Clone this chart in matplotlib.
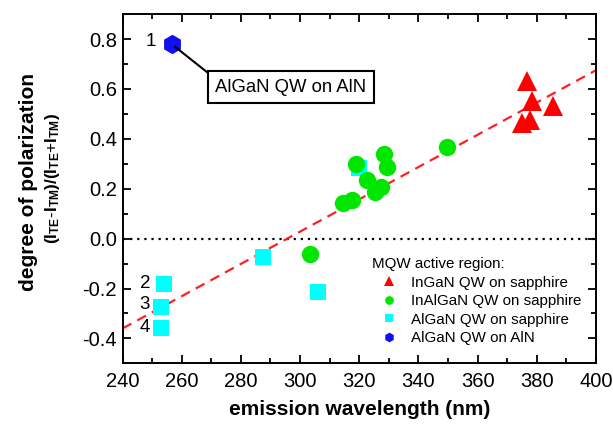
import matplotlib
matplotlib.use("Agg")
import numpy as np
from matplotlib import pyplot as plt
from matplotlib.ticker import MultipleLocator

plt.rcParams['font.family'] = ['Liberation Sans', 'DejaVu Sans']
plt.rcParams['mathtext.fontset'] = 'custom'
plt.rcParams['mathtext.rm'] = 'Liberation Sans'
plt.rcParams['mathtext.bf'] = 'Liberation Sans:bold'
plt.rcParams['mathtext.it'] = 'Liberation Sans:italic'

# InGaN QW on sapphire
ingan_x = [376.8, 378.4, 385.4, 375.0, 377.6]
ingan_y = [0.633, 0.553, 0.533, 0.462, 0.475]

# InAlGaN QW on sapphire
inalgan_x = [303.2, 314.4, 317.5, 318.9, 322.8, 325.4, 327.4, 328.4, 329.5, 349.8]
inalgan_y = [-0.06, 0.142, 0.156, 0.300, 0.236, 0.189, 0.209, 0.340, 0.289, 0.369]

# AlGaN QW on sapphire
algan_x = [254.0, 252.9, 252.9, 287.4, 306.0, 320.0]
algan_y = [-0.18, -0.276, -0.36, -0.074, -0.214, 0.285]

# AlGaN QW on AlN
aln_x = [256.6]
aln_y = [0.78]

# linear guide
fit_x = [240, 400]
fit_y = [-0.36, 0.675]

numbers = ["1", "2", "3", "4"]
number_x = [249.5, 247.5, 247.5, 247.5]
number_y = [0.79, -0.18, -0.265, -0.355]

fig = plt.figure(figsize=(6.13, 4.29), dpi=100)
ax = fig.add_axes([0.200, 0.153, 0.772, 0.814])

ax.axhline(0, color="black", ls=(0, (1, 2.2)), lw=1.6, zorder=1)
ax.plot(fit_x, fit_y, color="#ff2020", ls=(0, (4.5, 3)), lw=1.6, zorder=1)

ax.plot(algan_x, algan_y, "s", color="#00ffff", ms=12, mew=0, ls="none",
        label="AlGaN QW on sapphire", zorder=2)
ax.plot(inalgan_x, inalgan_y, "o", color="#00e600", ms=12.5, mew=0, ls="none",
        label="InAlGaN QW on sapphire", zorder=3)
ax.plot(ingan_x, ingan_y, "^", color="#ff0000", ms=14, mew=0, ls="none",
        label="InGaN QW on sapphire", zorder=3)
ax.plot(aln_x, aln_y, "h", color="#1010f0", ms=14, mew=0, ls="none",
        label="AlGaN QW on AlN", zorder=3)

for t, x, y in zip(numbers, number_x, number_y):
    ax.text(x, y, t, fontsize=13.5, ha="center", va="center")

ax.annotate("AlGaN QW on AlN", xy=(aln_x[0], aln_y[0]), xytext=(296.9, 0.607),
            fontsize=13.3, ha="center", va="center",
            bbox=dict(boxstyle="square,pad=0.4", fc="white", ec="black", lw=1.5),
            arrowprops=dict(arrowstyle="-", color="black", lw=1.5,
                            relpos=(0, 1), shrinkA=0, shrinkB=3))

h, l = ax.get_legend_handles_labels()
order = [2, 1, 0, 3]
leg = ax.legend([h[i] for i in order], [l[i] for i in order],
                title="MQW active region:", title_fontsize=10.9, fontsize=10.9,
                loc="upper left", bbox_to_anchor=(0.505, 0.335), frameon=False,
                markerscale=0.5, handlelength=2.2, handletextpad=0.35,
                labelspacing=0.3, alignment="left", borderpad=0.2)

ax.set_xlim(240, 400)
ax.set_ylim(-0.5, 0.9)
ax.xaxis.set_major_locator(MultipleLocator(20))
ax.xaxis.set_minor_locator(MultipleLocator(10))
ax.yaxis.set_minor_locator(MultipleLocator(0.1))
ax.set_yticks([-0.4, -0.2, 0.0, 0.2, 0.4, 0.6, 0.8])
ax.set_yticklabels(["-0.4", "-0.2", "0.0", "0.2", "0.4", "0.6", "0.8"])
ax.tick_params(which="both", direction="in", top=True, right=True, width=1.3,
               labelsize=14.5)
ax.tick_params(which="major", length=6)
ax.tick_params(which="minor", length=3.5)
ax.tick_params(axis="x", pad=6)
ax.tick_params(axis="y", pad=4)
for s in ax.spines.values():
    s.set_linewidth(1.4)

ax.set_xlabel("emission wavelength (nm)", fontsize=15, fontweight="bold", labelpad=7)
ax.set_ylabel("degree of polarization", fontsize=15, fontweight="bold")
ax.yaxis.set_label_coords(-0.179, 0.52)
ax.text(-0.149, 0.53, r"$\mathbf{(I_{TE}\text{-}I_{TM})/(I_{TE}\text{+}I_{TM})}$",
        transform=ax.transAxes, rotation=90, ha="center", va="center",
        fontsize=12.3)

fig.savefig("out.png", dpi=100)
